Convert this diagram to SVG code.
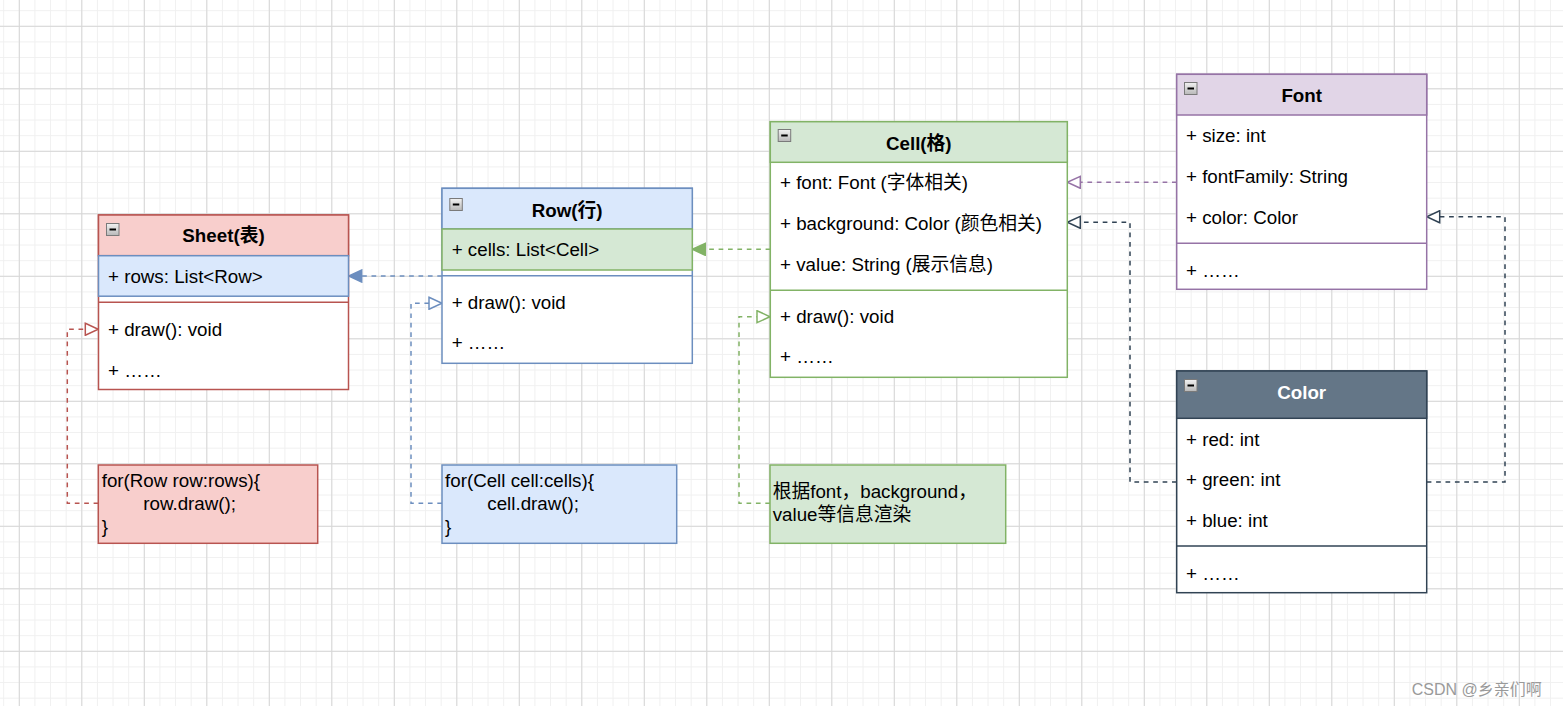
<svg xmlns="http://www.w3.org/2000/svg" width="1563" height="706" viewBox="0 0 1563 706">
<style>
text{font-family:"Liberation Sans","Noto Sans CJK SC",sans-serif;font-size:18.75px;fill:#000}
.t{font-weight:bold;text-anchor:middle}
.box{stroke-width:1.5}
.c{fill:none;stroke-width:1.5;stroke-dasharray:4.7 4.7}
</style>
<defs>
<pattern id="minor" patternUnits="userSpaceOnUse" x="18.8" y="25.8" width="15.625" height="15.625">
<path d="M0.5 0V15.625M0 0.5H15.625" stroke="#f0f0f0" stroke-width="1" fill="none"/>
</pattern>
<pattern id="major" patternUnits="userSpaceOnUse" x="18.8" y="25.8" width="62.5" height="62.5">
<path d="M0.5 0V62.5M0 0.5H62.5" stroke="#d6d6d6" stroke-width="1" fill="none"/>
</pattern>
<linearGradient id="ig" x1="0" y1="0" x2="0" y2="1">
<stop offset="0" stop-color="#f2f2f2"/><stop offset="1" stop-color="#b8b8b8"/>
</linearGradient>
<g id="icon">
<rect x="0.5" y="0.5" width="12.5" height="12" fill="url(#ig)" stroke="#7a7a7a" stroke-width="1"/>
<path d="M3.5 6.5H10" stroke="#000" stroke-width="2"/>
</g>
<marker id="fBlue" markerUnits="userSpaceOnUse" markerWidth="16" markerHeight="14" refX="14" refY="7" orient="auto">
<path d="M1 1L14 7L1 13Z" fill="#6c8ebf" stroke="#6c8ebf" stroke-width="1.5" stroke-dasharray="none"/>
</marker>
<marker id="fGreen" markerUnits="userSpaceOnUse" markerWidth="16" markerHeight="14" refX="14" refY="7" orient="auto">
<path d="M1 1L14 7L1 13Z" fill="#82b366" stroke="#82b366" stroke-width="1.5" stroke-dasharray="none"/>
</marker>
<marker id="oPurple" markerUnits="userSpaceOnUse" markerWidth="16" markerHeight="14" refX="14" refY="7" orient="auto">
<path d="M1 1L14 7L1 13Z" fill="#fff" stroke="#9673a6" stroke-width="1.5" stroke-dasharray="none"/>
</marker>
<marker id="oDark" markerUnits="userSpaceOnUse" markerWidth="16" markerHeight="14" refX="14" refY="7" orient="auto">
<path d="M1 1L14 7L1 13Z" fill="#fff" stroke="#314354" stroke-width="1.5" stroke-dasharray="none"/>
</marker>
<marker id="oRed" markerUnits="userSpaceOnUse" markerWidth="16" markerHeight="14" refX="14" refY="7" orient="auto">
<path d="M1 1L14 7L1 13Z" fill="#fff" stroke="#b85450" stroke-width="1.5" stroke-dasharray="none"/>
</marker>
<marker id="oBlue" markerUnits="userSpaceOnUse" markerWidth="16" markerHeight="14" refX="14" refY="7" orient="auto">
<path d="M1 1L14 7L1 13Z" fill="#fff" stroke="#6c8ebf" stroke-width="1.5" stroke-dasharray="none"/>
</marker>
<marker id="oGreen" markerUnits="userSpaceOnUse" markerWidth="16" markerHeight="14" refX="14" refY="7" orient="auto">
<path d="M1 1L14 7L1 13Z" fill="#fff" stroke="#82b366" stroke-width="1.5" stroke-dasharray="none"/>
</marker>
</defs>

<g id="background">
<rect width="1563" height="706" fill="#fff"/>
<rect width="1563" height="706" fill="url(#minor)"/>
<rect width="1563" height="706" fill="url(#major)"/>
</g>

<g id="connectors">
<path class="c" d="M442 276H348.7" stroke="#6c8ebf" marker-end="url(#fBlue)"/>
<path class="c" d="M770.3 249.3H692.3" stroke="#82b366" marker-end="url(#fGreen)"/>
<path class="c" d="M1176.7 182.3H1067.3" stroke="#9673a6" marker-end="url(#oPurple)"/>
<path class="c" d="M1176.7 482H1130V222.3H1067.3" stroke="#314354" marker-end="url(#oDark)"/>
<path class="c" d="M1426.7 482H1505V216.7H1426.7" stroke="#314354" marker-end="url(#oDark)"/>
<path class="c" d="M98.3 503.3H67.3V329.3H98.3" stroke="#b85450" marker-end="url(#oRed)"/>
<path class="c" d="M442 503.3H411V303.3H442" stroke="#6c8ebf" marker-end="url(#oBlue)"/>
<path class="c" d="M770 503.3H739V316.7H770" stroke="#82b366" marker-end="url(#oGreen)"/>
</g>

<g id="sheet">
<rect class="box" x="98.5" y="215" width="250" height="174.5" fill="#fff" stroke="#b85450"/>
<rect class="box" x="98.5" y="215" width="250" height="40.7" fill="#f8cecc" stroke="#b85450"/>
<rect class="box" x="98.5" y="255.7" width="250" height="40.5" fill="#dae8fc" stroke="#6c8ebf"/>
<path class="box" d="M98.5 302.3H348.5" stroke="#b85450"/>
<use href="#icon" x="106" y="223"/>
<text class="t" x="223.5" y="242.3">Sheet(表)</text>
<text x="108" y="282.5">+ rows: List&lt;Row&gt;</text>
<text x="108" y="335.7">+ draw(): void</text>
<text x="108" y="376.7">+ ……</text>
</g>

<g id="row">
<rect class="box" x="442" y="188.3" width="250.3" height="175" fill="#fff" stroke="#6c8ebf"/>
<rect class="box" x="442" y="188.3" width="250.3" height="40.7" fill="#dae8fc" stroke="#6c8ebf"/>
<rect class="box" x="442" y="229" width="250.3" height="41" fill="#d5e8d4" stroke="#82b366"/>
<path class="box" d="M442 275.7H692.3" stroke="#6c8ebf"/>
<use href="#icon" x="449.3" y="198"/>
<text class="t" x="567.2" y="216.7">Row(行)</text>
<text x="451.7" y="256">+ cells: List&lt;Cell&gt;</text>
<text x="451.7" y="309.3">+ draw(): void</text>
<text x="451.7" y="349.3">+ ……</text>
</g>

<g id="cell">
<rect class="box" x="770.3" y="121.7" width="297" height="255.6" fill="#fff" stroke="#82b366"/>
<rect class="box" x="770.3" y="121.7" width="297" height="40.6" fill="#d5e8d4" stroke="#82b366"/>
<path class="box" d="M770.3 290.3H1067.3" stroke="#82b366"/>
<use href="#icon" x="777.7" y="129"/>
<text class="t" x="918.8" y="150">Cell(格)</text>
<text x="780" y="189.3">+ font: Font (字体相关)</text>
<text x="780" y="230">+ background: Color (颜色相关)</text>
<text x="780" y="271">+ value: String (展示信息)</text>
<text x="780" y="323.3">+ draw(): void</text>
<text x="780" y="363.3">+ ……</text>
</g>

<g id="font">
<rect class="box" x="1176.7" y="74.3" width="250" height="215" fill="#fff" stroke="#9673a6"/>
<rect class="box" x="1176.7" y="74.3" width="250" height="40.7" fill="#e1d5e7" stroke="#9673a6"/>
<path class="box" d="M1176.7 243.3H1426.7" stroke="#9673a6"/>
<use href="#icon" x="1184" y="82"/>
<text class="t" x="1301.7" y="101.7">Font</text>
<text x="1186" y="142.3">+ size: int</text>
<text x="1186" y="183.3">+ fontFamily: String</text>
<text x="1186" y="224">+ color: Color</text>
<text x="1186" y="276.7">+ ……</text>
</g>

<g id="color">
<rect class="box" x="1176.7" y="371" width="250" height="221.7" fill="#fff" stroke="#314354"/>
<rect class="box" x="1176.7" y="371" width="250" height="47.3" fill="#647687" stroke="#314354"/>
<path class="box" d="M1176.7 546H1426.7" stroke="#314354"/>
<use href="#icon" x="1184" y="379"/>
<text class="t" x="1301.7" y="399" style="fill:#fff">Color</text>
<text x="1186" y="446">+ red: int</text>
<text x="1186" y="486">+ green: int</text>
<text x="1186" y="526.7">+ blue: int</text>
<text x="1186" y="580">+ ……</text>
</g>

<g id="note-sheet">
<rect class="box" x="98.3" y="465" width="219.4" height="78.3" fill="#f8cecc" stroke="#b85450"/>
<text x="101.7" y="486.7">for(Row row:rows){</text>
<text x="143.3" y="510">row.draw();</text>
<text x="101.7" y="533.3">}</text>
</g>

<g id="note-row">
<rect class="box" x="442" y="465" width="234.7" height="78.3" fill="#dae8fc" stroke="#6c8ebf"/>
<text x="445" y="486.7">for(Cell cell:cells){</text>
<text x="487.3" y="510">cell.draw();</text>
<text x="445" y="533.3">}</text>
</g>

<g id="note-cell">
<rect class="box" x="770" y="465" width="235.7" height="78.3" fill="#d5e8d4" stroke="#82b366"/>
<text x="772.7" y="498.3">根据font，background，</text>
<text x="772.7" y="520.7">value等信息渲染</text>
</g>

<g id="watermark">
<text x="1411.7" y="695" style="font-size:16px;fill:#9a9a9a">CSDN @乡亲们啊</text>
</g>
</svg>
